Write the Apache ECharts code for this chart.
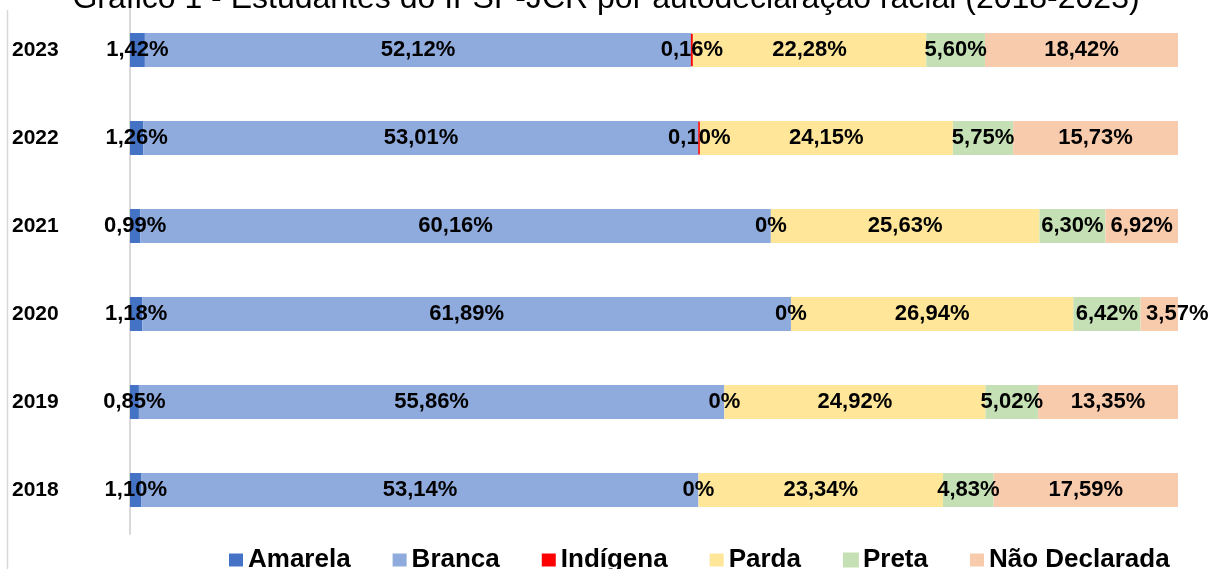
<!DOCTYPE html>
<html>
<head>
<meta charset="utf-8">
<title>Gráfico 1</title>
<script src="https://cdn.jsdelivr.net/npm/echarts@6/dist/echarts.min.js"></script>
<style>
  html, body { margin: 0; padding: 0; background: #fff; }
  #chart { width: 1212px; height: 569px; }
</style>
</head>
<body>
<div id="chart"></div>
<script>
// anos (de baixo para cima no eixo)
const anos = ['2018', '2019', '2020', '2021', '2022', '2023']
const categorias = ['Amarela', 'Branca', 'Indígena', 'Parda', 'Preta', 'Não Declarada']

// percentuais por ano, na ordem de anos
const amarela = [1.10, 0.85, 1.18, 0.99, 1.26, 1.42]
const branca = [53.14, 55.86, 61.89, 60.16, 53.01, 52.12]
const indigena = [0, 0, 0, 0, 0.10, 0.16]
const parda = [23.34, 24.92, 26.94, 25.63, 24.15, 22.28]
const preta = [4.83, 5.02, 6.42, 6.30, 5.75, 5.60]
const naoDeclarada = [17.59, 13.35, 3.57, 6.92, 15.73, 18.42]

const valores = [amarela, branca, indigena, parda, preta, naoDeclarada]
const cores = ['#4472C4', '#8FAADC', '#FF0000', '#FFE699', '#C5E0B4', '#F8CBAD']

const fonte = 'Liberation Sans, Arial, sans-serif'

function fmt(v) {
  if (v === 0) return '0%'
  return v.toFixed(2).replace('.', ',') + '%'
}

const chart = echarts.init(document.getElementById('chart'))

const series = categorias.map((nome, i) => {
  return {
    name: nome,
    type: 'bar',
    stack: 'total',
    barWidth: 34,
    data: valores[i].map(v => {
      const item = { value: v }
      // rótulo pequeno demais para caber: empurra para a direita (como no Excel)
      if (nome === 'Não Declarada' && v < 5) {
        item.label = { offset: [18, 0] }
      }
      // barra indígena fininha: contorno vermelho pra aparecer
      if (nome === 'Indígena' && v > 0) {
        item.itemStyle = { borderColor: cores[i], borderWidth: 2 }
      }
      return item
    }),
    itemStyle: i === 4
      ? { color: cores[i], borderColor: cores[i], borderWidth: 3 }
      : { color: cores[i] },
    label: {
      show: true,
      position: 'inside',
      color: '#000',
      fontFamily: fonte,
      fontWeight: 'bold',
      fontSize: 22,
      formatter: p => fmt(p.value)
    }
  }
})

const option = {
  animation: false,
  title: {
    text: 'Gráfico 1 - Estudantes do IFSP-JCR por autodeclaração racial (2018-2023)',
    left: 'center',
    top: -22,
    textStyle: {
      fontFamily: fonte,
      fontWeight: 'normal',
      fontSize: 32,
      color: '#000'
    }
  },
  legend: {
    left: 224,
    top: 542,
    itemWidth: 14,
    itemHeight: 13,
    itemGap: 42,
    icon: 'rect',
    textStyle: {
      fontFamily: fonte,
      fontWeight: 'bold',
      fontSize: 26,
      color: '#000'
    },
    data: categorias
  },
  grid: {
    left: 130,
    right: 34,
    top: 6,
    bottom: 35
  },
  xAxis: {
    type: 'value',
    min: 0,
    max: 100,
    show: false
  },
  yAxis: {
    type: 'category',
    data: anos,
    axisTick: { show: false },
    axisLine: { show: true, lineStyle: { color: '#D9D9D9', width: 2 } },
    axisLabel: {
      align: 'left',
      margin: 118,
      color: '#000',
      fontFamily: fonte,
      fontWeight: 'bold',
      fontSize: 21
    }
  },
  graphic: [{
    type: 'line',
    shape: { x1: 7.5, y1: 10, x2: 7.5, y2: 569 },
    style: { stroke: '#D9D9D9', lineWidth: 1.5 }
  }],
  series: series
}

chart.setOption(option)
</script>
</body>
</html>
